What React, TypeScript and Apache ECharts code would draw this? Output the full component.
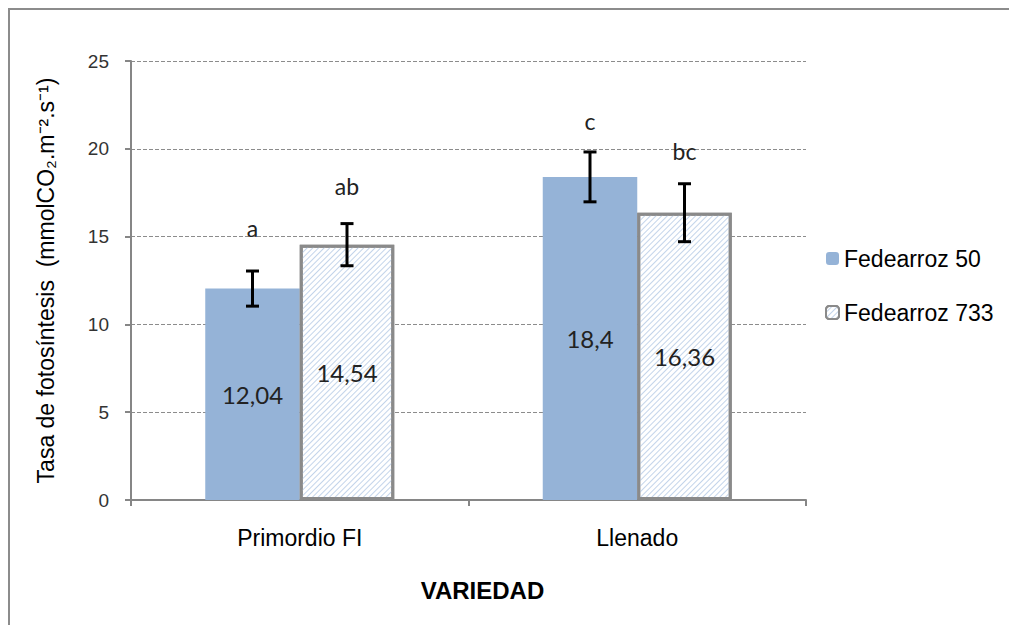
import React, { useEffect, useRef } from "react";
import * as echarts from "echarts";

const categories = ["Primordio FI", "Llenado"];
const seriesNames = ["Fedearroz 50", "Fedearroz 733"];
const fed50 = [12.04, 18.4];
const fed733 = [14.54, 16.36];
const err50 = [1.0, 1.42];
const err733 = [1.2, 1.65];
const letters50 = ["a", "c"];
const letters733 = ["ab", "bc"];
const letterPos50 = [15.5, 21.6];
const letterPos733 = [17.9, 19.9];
const yTicks = [0, 5, 10, 15, 20, 25];

const BAR_FRAC = 0.28;

function errorSeries(values: number[], errs: number[], letters: string[], letterPos: number[], side: number) {
  return {
    type: "custom",
    name: "err" + side,
    silent: true,
    z: 10,
    data: values.map((v, i) => [i, v, errs[i], letterPos[i]]),
    renderItem: (params: any, api: any) => {
      const idx = api.value(0);
      const v = api.value(1);
      const e = api.value(2);
      const lp = api.value(3);
      const band = api.size([1, 0])[0];
      const c = api.coord([idx, v]);
      const x = c[0] + side * band * BAR_FRAC / 2;
      const top = api.coord([idx, v + e])[1];
      const bot = api.coord([idx, v - e])[1];
      const ly = api.coord([idx, lp])[1];
      const cap = 6.5;
      const st = { stroke: "#000", lineWidth: 3 };
      return {
        type: "group",
        children: [
          { type: "line", shape: { x1: x, y1: top, x2: x, y2: bot }, style: st },
          { type: "line", shape: { x1: x - cap, y1: top, x2: x + cap, y2: top }, style: st },
          { type: "line", shape: { x1: x - cap, y1: bot, x2: x + cap, y2: bot }, style: st },
          {
            type: "text",
            x: x,
            y: ly,
            style: {
              text: letters[params.dataIndex],
              fill: "#222",
              font: "23px Lato",
              align: "center",
              verticalAlign: "middle",
            },
          },
        ],
      };
    },
  };
}

export default function App() {
  const ref = useRef<HTMLDivElement>(null);
  useEffect(() => {
    const chart = echarts.init(ref.current!, null, { renderer: "svg" });
    const fmt = (p: any) => String(p.value).replace(".", ",");
    chart.setOption({
      animation: false,
      backgroundColor: "#fff",
      graphic: [
        {
          type: "rect",
          shape: { x: 9, y: 9, width: 1100, height: 700 },
          style: { fill: "none", stroke: "#8c8c8c", lineWidth: 2 },
          silent: true,
        },
      ],
      grid: { left: 131, right: 203, top: 61, bottom: 125 },
      legend: {
        orient: "vertical",
        left: 820,
        top: 242,
        itemWidth: 13,
        itemHeight: 13,
        itemGap: 31,
        data: seriesNames,
        textStyle: { fontFamily: "Liberation Sans", fontSize: 23, color: "#000" },
      },
      xAxis: {
        type: "category",
        data: categories,
        name: "VARIEDAD",
        nameLocation: "middle",
        nameGap: 78,
        nameTextStyle: {
          fontFamily: "Liberation Sans",
          fontSize: 24,
          fontWeight: "bold",
          color: "#000",
          padding: [0, 0, 0, 28],
        },
        axisLine: { lineStyle: { color: "#868686", width: 2 } },
        axisTick: { show: true, length: 6, lineStyle: { color: "#868686", width: 2 } },
        axisLabel: { fontFamily: "Liberation Sans", fontSize: 23, color: "#000", margin: 26 },
      },
      yAxis: {
        type: "value",
        min: yTicks[0],
        max: yTicks[yTicks.length - 1],
        interval: 5,
        name: "Tasa de fotosíntesis  (mmolCO₂.m⁻².s⁻¹)",
        nameLocation: "middle",
        nameGap: 74,
        nameTextStyle: { fontFamily: "Liberation Sans", fontSize: 23, color: "#000" },
        axisLine: { show: true, lineStyle: { color: "#868686", width: 2 } },
        axisTick: { show: true, length: 6, lineStyle: { color: "#868686", width: 2 } },
        axisLabel: { fontFamily: "Liberation Sans", fontSize: 19, color: "#333", margin: 22 },
        splitLine: { lineStyle: { color: "#8c8c8c", type: [4, 2], width: 1 } },
      },
      series: [
        {
          type: "bar",
          name: seriesNames[0],
          data: fed50,
          barWidth: BAR_FRAC * 100 + "%",
          barGap: "0%",
          itemStyle: { color: "#95b3d7" },
          label: {
            show: true,
            position: "inside",
            formatter: fmt,
            fontFamily: "Lato",
            fontSize: 24,
            color: "#222",
          },
        },
        {
          type: "bar",
          name: seriesNames[1],
          data: fed733,
          barWidth: BAR_FRAC * 100 + "%",
          barGap: "0%",
          itemStyle: {
            color: "#ffffff",
            borderColor: "#8a8a8a",
            borderWidth: 3,
            decal: {
              symbol: "rect",
              symbolSize: 1,
              color: "#c3d4ea",
              dashArrayX: [1, 0],
              dashArrayY: [1, 3],
              rotation: -Math.PI / 4,
            },
          },
          label: {
            show: true,
            position: "inside",
            formatter: fmt,
            fontFamily: "Lato",
            fontSize: 24,
            color: "#222",
          },
        },
        errorSeries(fed50, err50, letters50, letterPos50, -1),
        errorSeries(fed733, err733, letters733, letterPos733, 1),
      ],
    });
    return () => chart.dispose();
  }, []);
  return (
    <div
      ref={ref}
      style={{ position: "fixed", left: 0, top: 0, width: 1009, height: 625 }}
    />
  );
}
